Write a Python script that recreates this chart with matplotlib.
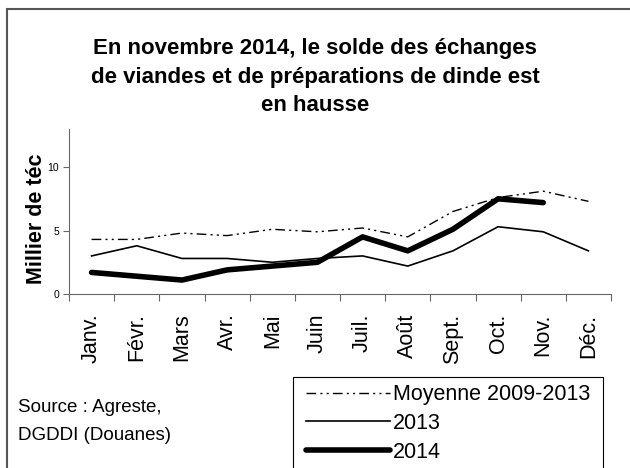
import matplotlib.pyplot as plt
from matplotlib.patches import Rectangle

plt.rcParams["font.family"] = ["Liberation Sans", "DejaVu Sans"]

months = ["Janv.", "Févr.", "Mars", "Avr.", "Mai", "Juin",
          "Juil.", "Août", "Sept.", "Oct.", "Nov.", "Déc."]
moyenne = [4.3, 4.3, 4.8, 4.6, 5.1, 4.9, 5.2, 4.5, 6.5, 7.6, 8.1, 7.3]
v2013 = [3.0, 3.8, 2.8, 2.8, 2.5, 2.8, 3.0, 2.2, 3.4, 5.3, 4.9, 3.4]
v2014 = [1.7, 1.4, 1.1, 1.9, 2.2, 2.5, 4.5, 3.4, 5.1, 7.5, 7.2]

W, H = 630, 468
fig = plt.figure(figsize=(W / 100, H / 100), dpi=100)
ax = fig.add_axes([69 / W, 1 - 294 / H, (611 - 69) / W, (294 - 129) / H])

x = [i + 0.5 for i in range(len(months))]
ax.plot(x, moyenne, color="black", lw=1.0, dashes=(7, 3, 1.5, 3, 1.5, 3),
        label="Moyenne 2009-2013")
ax.plot(x, v2013, color="black", lw=1.2, label="2013")
ax.plot(x[:len(v2014)], v2014, color="black", lw=4, solid_capstyle="round",
        label="2014")

ax.set_xlim(0, 12)
ax.set_ylim(0, 13)
ax.set_yticks([0, 5, 10])
ax.tick_params(axis="y", labelsize=7.5, length=4, color="#666666", pad=3)
ax.set_xticks(range(13))
ax.set_xticklabels([])
ax.set_xticks(x, minor=True)
ax.set_xticklabels(months, minor=True, rotation=90, fontsize=15.5)
ax.tick_params(axis="x", which="major", length=5, color="#666666")
ax.tick_params(axis="x", which="minor", length=0, pad=14)
for s in ["top", "right"]:
    ax.spines[s].set_visible(False)
for s in ["left", "bottom"]:
    ax.spines[s].set_color("#666666")

fig.text(36 / W, 1 - 219 / H, "Millier de téc", rotation=90,
         ha="center", va="center", fontsize=15.5, fontweight="bold")

fig.text(0.5, 1 - 77 / H,
         "En novembre 2014, le solde des échanges\n"
         "de viandes et de préparations de dinde est\nen hausse",
         ha="center", va="center", fontsize=16, fontweight="bold",
         linespacing=1.45)

fig.text(18 / W, 1 - 407 / H, "Source : Agreste,", fontsize=13.5, va="center")
fig.text(18 / W, 1 - 436 / H, "DGDDI (Douanes)", fontsize=13.5, va="center")

# outer frame
fig.patches.append(Rectangle((7 / W, -0.1), 1.2, 1 - 8.5 / H + 0.1,
                             transform=fig.transFigure, fill=False,
                             edgecolor="#555555", lw=1.5))
# legend frame
fig.patches.append(Rectangle((293 / W, -0.1), (603 - 293) / W, 1 - 377 / H + 0.1,
                             transform=fig.transFigure, fill=False,
                             edgecolor="black", lw=0.8))
handles, labels = ax.get_legend_handles_labels()
fig.legend(handles, labels, loc="upper left",
           bbox_to_anchor=(304 / W, 1 - 382 / H), frameon=False,
           fontsize=15.5, handlelength=3.9, handletextpad=0.15,
           labelspacing=0.36, borderaxespad=0, borderpad=0.1)

fig.savefig("out.png", dpi=100)
